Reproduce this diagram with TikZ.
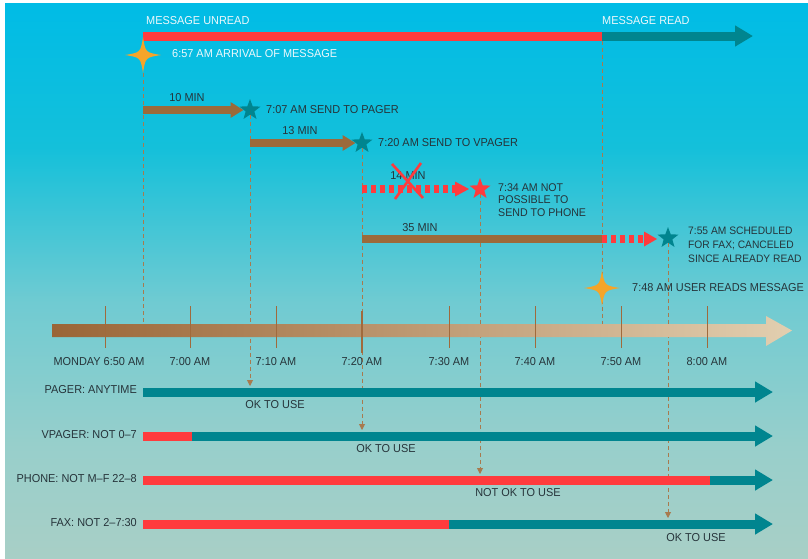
\documentclass[tikz,border=0pt]{standalone}
\usepackage{fontspec}
\setmainfont{Liberation Sans}[FakeStretch=0.95]
\usetikzlibrary{shapes.geometric,arrows.meta}

\definecolor{bgtop}{HTML}{00BCE6}
\definecolor{bgmidA}{HTML}{14C0DA}
\definecolor{bgmidB}{HTML}{70CBD2}
\definecolor{bgmidC}{HTML}{98CFCB}
\definecolor{bgbot}{HTML}{A8CFC6}
\definecolor{redc}{HTML}{FF3B3D}
\definecolor{tealc}{HTML}{00858F}
\definecolor{brownc}{HTML}{9C6A3A}
\definecolor{dashc}{HTML}{A87A4E}
\definecolor{tickc}{HTML}{A06A3C}
\definecolor{sparkc}{HTML}{F5A52A}
\definecolor{darktext}{HTML}{26343A}
\definecolor{lighttext}{HTML}{EEF8FB}
\definecolor{axisL}{HTML}{9A6536}
\definecolor{axisR}{HTML}{E2CFB0}

\pgfdeclareverticalshading{bgshade}{100bp}{%
  color(0bp)=(bgbot); color(25bp)=(bgbot); color(35bp)=(bgmidC);
  color(48bp)=(bgmidB); color(62bp)=(bgmidA); color(75bp)=(bgtop);
  color(100bp)=(bgtop)}

\tikzset{
  lbl/.style={font=\fontsize{11.5}{13}\selectfont, text=darktext, inner sep=0pt},
  toplbl/.style={lbl, text=lighttext},
  chanlbl/.style={lbl, anchor=east},
  ticklbl/.style={lbl, anchor=center},
  evtstar/.style={star, star points=5, star point ratio=2.4, minimum size=22pt,
    inner sep=0pt, fill=tealc},
  redstar/.style={evtstar, fill=redc},
  guide/.style={dashc, line width=0.9pt, dash pattern=on 4pt off 3pt},
  guidearrow/.style={guide, -{Triangle[length=6pt,width=6pt]}},
  fatbar/.style={line width=9pt},
  fathead/.style={-{Triangle[length=18pt,width=20pt]}},
  delaybar/.style={brownc, line width=8.5pt},
  delayhead/.style={-{Triangle[length=13pt,width=15pt]}},
  failbar/.style={redc, line width=8pt, dash pattern=on 5pt off 4pt},
  tickline/.style={tickc, line width=1pt},
  sparkle/.pic={\fill[sparkc] (18,0) .. controls (2.5,2.5) .. (0,18)
     .. controls (-2.5,2.5) .. (-18,0) .. controls (-2.5,-2.5) .. (0,-18)
     .. controls (2.5,-2.5) .. (18,0) -- cycle;}
}

\begin{document}
\begin{tikzpicture}[x=1pt,y=-1pt]
% canvas and background wash
\useasboundingbox (0,0) rectangle (808,558);
\fill[white] (0,0) rectangle (808,558);
\shade[shading=bgshade] (5,3) rectangle (808,558);

% ---------- named positions ----------
\coordinate (arr)  at (143,55);
\coordinate (read) at (602,288);
\coordinate (u0)   at (143,36);
\coordinate (rd)   at (602,36);
\coordinate (u1)   at (753,36);

% event markers
\node[evtstar] (pgs)  at (250,110) {};
\node[evtstar] (vps)  at (362,143) {};
\node[redstar] (phs)  at (480,189) {};
\node[evtstar] (fxs)  at (668,238) {};

% guide end points
\coordinate (arrBot)  at (143,323);
\coordinate (rdBot)   at (602,325);
\coordinate (pgTip)   at (250,386);
\coordinate (vpTip)   at (362,430);
\coordinate (phTip)   at (480,474);
\coordinate (fxTip)   at (668,518);

% ---------- dashed guides ----------
\draw[guide] (arr) ++(0,18) -- (arrBot);
\draw[guide] (rd) ++(0,4.5) -- (rdBot);
\draw[guidearrow] (pgs.south) -- (pgTip);
\draw[guidearrow] (vps.south) -- (vpTip);
\draw[guidearrow] (phs.south) -- (phTip);
\draw[guidearrow] (fxs.south) -- (fxTip);

% ---------- message state bar ----------
\draw[redc, fatbar] (u0) -- (rd);
\draw[tealc, fatbar, fathead] ([xshift=-0.5pt]rd) -- (u1);
\node[toplbl, anchor=base west] (unreadlbl) at (146,24) {MESSAGE UNREAD};
\node[toplbl, anchor=base west] (readlbl) at (602,24) {MESSAGE READ};

% arrival
\pic at (arr) {sparkle};
\node[toplbl, anchor=west] (arrlbl) at (172,54) {6:57 AM ARRIVAL OF MESSAGE};

% ---------- delivery attempts ----------
\coordinate (d1a) at (143,110);
\draw[delaybar, delayhead] (d1a) -- (pgs.west);
\node[lbl] (d1lbl) at (187,98) {10 MIN};
\node[lbl, anchor=west] (pglbl) at (266,110) {7:07 AM SEND TO PAGER};

\coordinate (d2a) at (250,143);
\draw[delaybar, delayhead] (d2a) -- (vps.west);
\node[lbl] (d2lbl) at (300,131) {13 MIN};
\node[lbl, anchor=west] (vplbl) at (378,143) {7:20 AM SEND TO VPAGER};

\coordinate (d3a) at (362,189);
\coordinate (d3h) at (456,189);
\draw[failbar] (d3a) -- (d3h);
\fill[redc] (455,181.5) -- (469,189) -- (455,196.5) -- cycle;
\node[lbl] (d3lbl) at (408,176) {14 MIN};
\coordinate (xa) at (392,164);
\coordinate (xb) at (423,198);
\coordinate (xc) at (421,163);
\coordinate (xd) at (395,199);
\draw[redc, line width=2.6pt] (xa) -- (xb);
\draw[redc, line width=2.6pt] (xc) -- (xd);
\node[lbl, anchor=north west, align=left,
  font=\fontsize{11.2}{12.3}\selectfont] (phlbl) at (498,183.5)
  {7:34 AM NOT\\POSSIBLE TO\\SEND TO PHONE};

\coordinate (d4a) at (362,239);
\coordinate (d4b) at (602,239);
\coordinate (d4h) at (645,239);
\draw[delaybar] (d4a) -- (d4b);
\draw[failbar] (d4b) -- (d4h);
\fill[redc] (644,231.5) -- (657,239) -- (644,246.5) -- cycle;
\node[lbl] (d4lbl) at (420,228) {35 MIN};
\node[lbl, anchor=north west, align=left,
  font=\fontsize{10.8}{14.3}\selectfont] (fxlbl) at (688,226.5)
  {7:55 AM SCHEDULED\\FOR FAX; CANCELED\\SINCE ALREADY READ};

% read by user
\pic at (read) {sparkle};
\node[lbl, anchor=west] (readevt) at (632,288) {7:48 AM USER READS MESSAGE};

% ---------- time axis ----------
\shade[left color=axisL, right color=axisR]
  (52,324) -- (766,324) -- (766,316) -- (792,330.5) -- (766,346)
  -- (766,337) -- (52,337) -- cycle;
\foreach \x in {105,190,276,449,535,621,707}{
  \draw[tickline] (\x,306) -- (\x,348);
}
\draw[tickline, line width=1.5pt] (362,311) -- (362,353);
\node[ticklbl] (tk650) at (99,362) {MONDAY 6:50 AM};
\node[ticklbl] (tk700) at (190,362) {7:00 AM};
\node[ticklbl] (tk710) at (276,362) {7:10 AM};
\node[ticklbl] (tk720) at (362,362) {7:20 AM};
\node[ticklbl] (tk730) at (449,362) {7:30 AM};
\node[ticklbl] (tk740) at (535,362) {7:40 AM};
\node[ticklbl] (tk750) at (621,362) {7:50 AM};
\node[ticklbl] (tk800) at (707,362) {8:00 AM};

% ---------- channel availability ----------
% pager
\coordinate (pg0) at (143,392);
\coordinate (pg1) at (773,392);
\draw[tealc, fatbar, fathead] (pg0) -- (pg1);
\node[chanlbl] (pgname) at (137,390) {PAGER: ANYTIME};
\node[lbl] (pgok) at (275,405) {OK TO USE};

% vpager
\coordinate (vp0) at (143,436);
\coordinate (vpm) at (191,436);
\coordinate (vp1) at (773,436);
\draw[tealc, fatbar, fathead] (vpm) -- (vp1);
\draw[redc, fatbar] (vp0) -- ([xshift=0.5pt]vpm);
\node[chanlbl] (vpname) at (137,435) {VPAGER: NOT 0--7};
\node[lbl] (vpok) at (386,449) {OK TO USE};

% phone
\coordinate (ph0) at (143,480);
\coordinate (phm) at (709,480);
\coordinate (ph1) at (773,480);
\draw[tealc, fatbar, fathead] (phm) -- (ph1);
\draw[redc, fatbar] (ph0) -- ([xshift=0.5pt]phm);
\node[chanlbl] (phname) at (137,479) {PHONE: NOT M--F 22--8};
\node[lbl] (phok) at (518,493) {NOT OK TO USE};

% fax
\coordinate (fx0) at (143,524);
\coordinate (fxm) at (448,524);
\coordinate (fx1) at (773,524);
\draw[tealc, fatbar, fathead] (fxm) -- (fx1);
\draw[redc, fatbar] (fx0) -- ([xshift=0.5pt]fxm);
\node[chanlbl] (fxname) at (137,523) {FAX: NOT 2--7:30};
\node[lbl] (fxok) at (696,538) {OK TO USE};
\end{tikzpicture}
\end{document}
